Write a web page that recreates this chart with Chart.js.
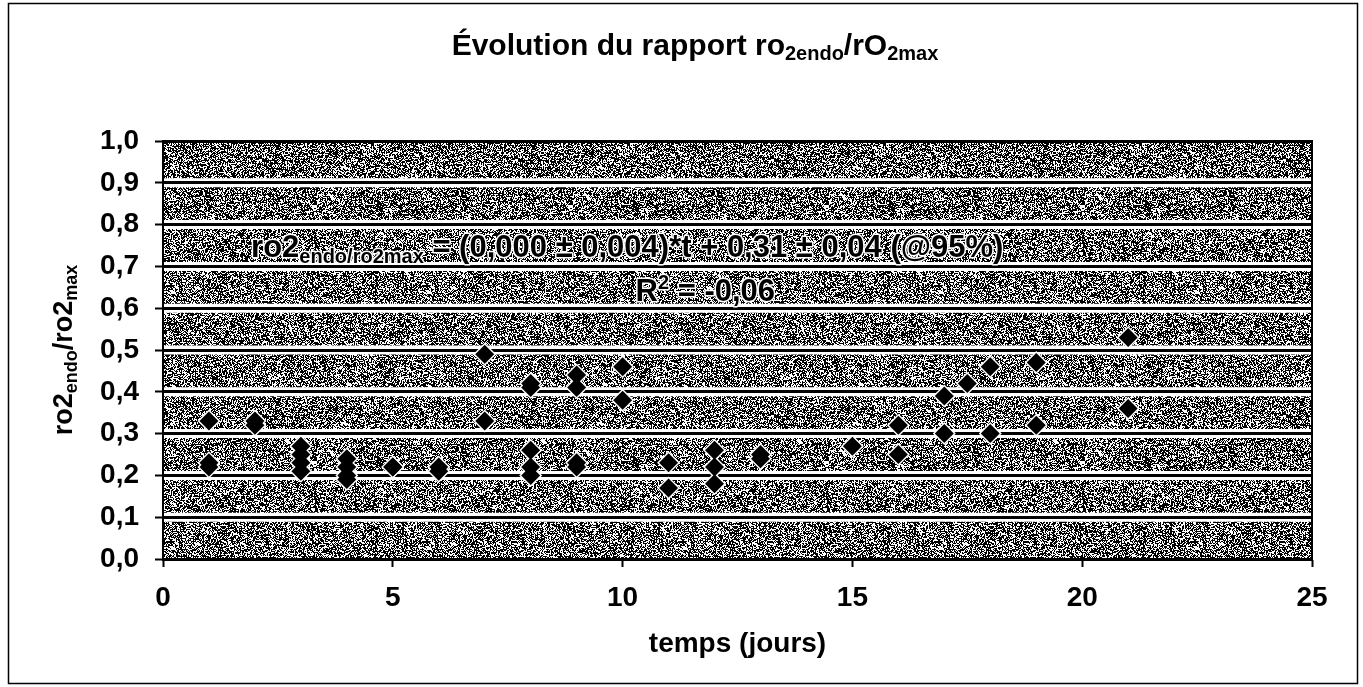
<!DOCTYPE html>
<html>
<head>
<meta charset="utf-8">
<script src="https://cdn.jsdelivr.net/npm/chart.js@4.4.1/dist/chart.umd.min.js"></script>
<style>
  body { margin: 0; background: #fff; }
</style>
</head>
<body>
<canvas id="ratioChart" width="1363" height="687"></canvas>
<script>
const timeDays = [1, 1, 1, 2, 2, 3, 3, 3, 3, 4, 4, 4, 4, 5, 5, 6, 6, 7, 7,
    8, 8, 8, 8, 8, 9, 9, 9, 9, 10, 10, 11, 11, 12, 12, 12, 13, 13, 15, 16, 16,
    17, 17, 17.5, 18, 18, 19, 19, 21, 21];
const ratio = [0.33, 0.23, 0.22, 0.33, 0.32, 0.27, 0.25, 0.23, 0.21, 0.24, 0.22, 0.20, 0.19,
    0.22, 0.22, 0.22, 0.21, 0.49, 0.33, 0.42, 0.41, 0.26, 0.22, 0.20, 0.44, 0.41, 0.23, 0.22,
    0.46, 0.38, 0.23, 0.17, 0.26, 0.22, 0.18, 0.25, 0.24, 0.27, 0.32, 0.25,
    0.39, 0.30, 0.42, 0.46, 0.30, 0.47, 0.32, 0.53, 0.36];

const xRange = [0, 25];
const xStep = 5;
const yRange = [0, 1];
const yStep = 0.1;

const FONT = '"Liberation Sans", Arial, sans-serif';

// texture grise tramée pour le fond de la zone de tracé
function makeNoise() {
    const n = 256, c = document.createElement('canvas');
    c.width = n; c.height = n;
    const g = c.getContext('2d');
    g.fillStyle = '#fff';
    g.fillRect(0, 0, n, n);
    g.fillStyle = '#000';
    let s = 987654321;
    for (let j = 0; j < n; j++) {
        for (let i = 0; i < n; i++) {
            s = (Math.imul(s, 1103515245) + 12345) >>> 0;
            if (((s >>> 16) % 100) < 58) g.fillRect(i, j, 1, 1);
        }
    }
    return c;
}
const noise = makeNoise();

// texte avec indices / exposants
function drawRich(ctx, segs, cx, cy, halo) {
    let total = 0;
    segs.forEach(s => {
        ctx.font = 'bold ' + s.size + 'px ' + FONT;
        s.w = ctx.measureText(s.t).width;
        total += s.w;
    });
    let x = cx - total / 2;
    const base = cy + segs[0].size * 0.36;
    ctx.textAlign = 'left';
    ctx.textBaseline = 'alphabetic';
    segs.forEach(s => {
        ctx.font = 'bold ' + s.size + 'px ' + FONT;
        const y = base + (s.shift || 0);
        if (halo) {
            ctx.lineWidth = 3;
            ctx.strokeStyle = '#fff';
            ctx.lineJoin = 'round';
            ctx.strokeText(s.t, x, y);
        }
        ctx.fillStyle = '#000';
        ctx.fillText(s.t, x, y);
        x += s.w;
    });
}

const decorPlugin = {
    id: 'decor',
    beforeDraw(chart) {
        const {ctx, chartArea: a, scales: {y}} = chart;
        ctx.save();
        ctx.fillStyle = ctx.createPattern(noise, 'repeat');
        ctx.fillRect(a.left, a.top, a.right - a.left, a.bottom - a.top);
        // bandes blanches autour des lignes de quadrillage
        ctx.strokeStyle = '#fff';
        ctx.lineWidth = 9;
        y.ticks.forEach(t => {
            if (t.value <= yRange[0] || t.value >= yRange[1]) return;
            const py = y.getPixelForValue(t.value);
            ctx.beginPath();
            ctx.moveTo(a.left, py);
            ctx.lineTo(a.right, py);
            ctx.stroke();
        });
        ctx.restore();
    },
    beforeDatasetsDraw(chart) {
        const {ctx, scales: {x, y}} = chart;
        ctx.save();
        drawRich(ctx, [
            {t: 'ro2', size: 31},
            {t: 'endo/ro2max', size: 20, shift: 6},
            {t: ' = (0,000 ± 0,004)*t + 0,31 ± 0,04 (@95%)', size: 31}
        ], x.getPixelForValue(10.1), y.getPixelForValue(0.75), true);
        drawRich(ctx, [
            {t: 'R', size: 31},
            {t: '2', size: 20, shift: -12},
            {t: ' = -0,06', size: 31}
        ], x.getPixelForValue(11.8), y.getPixelForValue(0.645), true);
        ctx.restore();
    },
    afterDraw(chart) {
        const {ctx, chartArea: a} = chart;
        ctx.save();
        ctx.strokeStyle = '#000';
        ctx.lineWidth = 2;
        ctx.strokeRect(a.left, a.top, a.right - a.left, a.bottom - a.top);
        ctx.lineWidth = 1.5;
        ctx.strokeRect(8.5, 3.5, 1349, 680);
        // titre
        drawRich(ctx, [
            {t: 'Évolution du rapport ro', size: 30},
            {t: '2endo', size: 20, shift: 5},
            {t: '/rO', size: 30},
            {t: '2max', size: 20, shift: 5}
        ], 695, 44, false);
        // titre de l'axe vertical
        ctx.translate(62, (a.top + a.bottom) / 2);
        ctx.rotate(-Math.PI / 2);
        drawRich(ctx, [
            {t: 'ro2', size: 27},
            {t: 'endo', size: 18, shift: 5},
            {t: '/ro2', size: 27},
            {t: 'max', size: 18, shift: 5}
        ], 0, 0, false);
        ctx.restore();
    }
};

const points = timeDays.map((t, i) => ({x: t, y: ratio[i]}));

new Chart(document.getElementById('ratioChart'), {
    type: 'scatter',
    data: {
        datasets: [{
            // marqueurs noirs (dessinés au-dessus du halo)
            data: points,
            pointStyle: 'rectRot',
            pointRadius: 9.5,
            pointHoverRadius: 9.5,
            backgroundColor: '#000',
            borderWidth: 0,
            order: 1
        }, {
            // halo blanc autour des marqueurs
            data: points,
            pointStyle: 'rectRot',
            pointRadius: 11.5,
            pointHoverRadius: 11.5,
            backgroundColor: '#fff',
            borderWidth: 0,
            order: 2
        }]
    },
    options: {
        responsive: false,
        animation: false,
        layout: {padding: {top: 141, right: 51, left: 0, bottom: 0}},
        plugins: {legend: {display: false}, tooltip: {enabled: false}},
        scales: {
            x: {
                type: 'linear',
                min: xRange[0],
                max: xRange[1],
                afterFit: s => { s.height = 128; },
                ticks: {
                    stepSize: xStep,
                    padding: 14,
                    color: '#000',
                    font: {family: FONT, size: 28, weight: 'bold'}
                },
                grid: {
                    drawOnChartArea: false,
                    tickLength: 8,
                    tickColor: '#000',
                    tickWidth: 2
                },
                border: {color: '#000', width: 2},
                title: {
                    display: true,
                    text: 'temps (jours)',
                    color: '#000',
                    font: {family: FONT, size: 28, weight: 'bold'},
                    padding: {bottom: 26}
                }
            },
            y: {
                min: yRange[0],
                max: yRange[1],
                afterFit: s => { s.width = 163; },
                ticks: {
                    stepSize: yStep,
                    padding: 16,
                    color: '#000',
                    font: {family: FONT, size: 28, weight: 'bold'},
                    callback: v => v.toFixed(1).replace('.', ',')
                },
                grid: {
                    color: '#000',
                    lineWidth: 3,
                    tickLength: 8,
                    tickColor: '#000',
                    tickWidth: 2
                },
                border: {color: '#000', width: 2}
            }
        }
    },
    plugins: [decorPlugin]
});
</script>
</body>
</html>
